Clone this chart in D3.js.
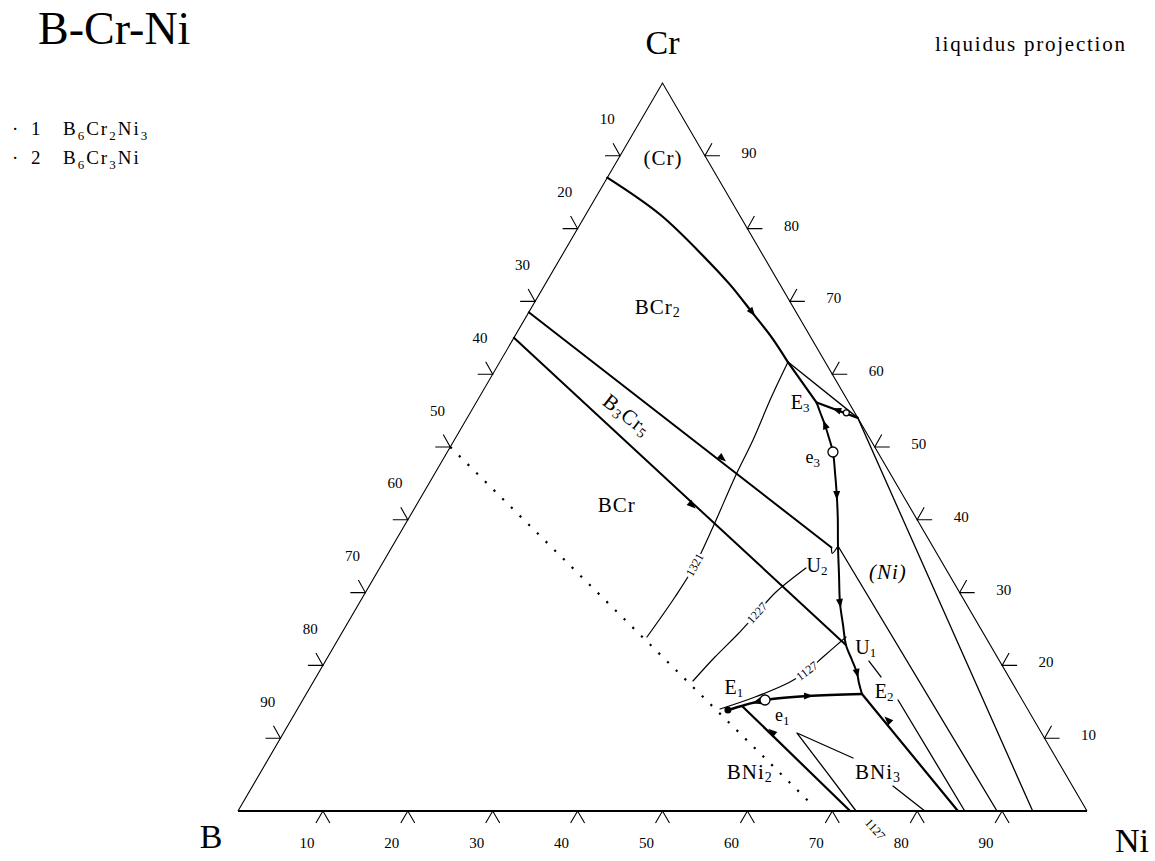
<!DOCTYPE html>
<html><head><meta charset="utf-8">
<script src="https://cdn.jsdelivr.net/npm/d3@7"></script>
<style>
body{margin:0;background:#fff}
svg{display:block}
text{font-family:"Liberation Serif","Times New Roman",serif;fill:#000}
</style>
</head><body>
<svg id="c" width="1155" height="861"></svg>
<script>
// ---------- data (compositions in at.% : [Ni, Cr]) ----------
const ticks = [10,20,30,40,50,60,70,80,90];
const crBCr2 = [[0,87],[8.8,81.9],[17.4,75.7],[21.8,72.3],[26.3,68.5],[30.4,65.0],[33.9,61.7]];
const bcr2B3cr5 = [[0,68.5],[51.8,36.2]];
const u2Hook = [[51.8,36.2],[52.3,35.4],[52.47,36.4]];
const b3cr5BCr = [[0,65.0],[60.2,22.8]];
const p1E3 = [[33.9,61.7],[40.1,56.1]];
const e3Edge = [[40.1,56.1],[46.0,54.0]];
const p1Edge = [[33.9,61.7],[46.0,54.0]];
const e3Valley = [[40.1,56.1],[41.15,54.81],[42.63,53.02],[43.99,51.24],[45.42,49.31],[47.11,46.43],[48.82,43.41],[50.52,40.25],[52.47,36.40],[54.58,32.42],[56.62,28.57],[58.49,25.55],[60.21,22.80],[61.95,20.74],[63.43,18.96],[64.35,17.58],[65.46,16.07]];
const e1Valley = [[50.77,13.87],[52.44,14.56],[54.45,15.25],[59.24,15.80],[65.46,16.07]];
const e1Base = [[52.34,14.29],[72.1,0]];
const e2Base = [[65.46,16.07],[84.8,0]];
const niBoundary1 = [[46.0,54.0],[93.6,0]];
const niBoundary2 = [[52.47,36.40],[89.4,0]];
const niLineA = [[64.02,20.60],[66.53,18.41]];
const niLineB = [[70.12,15.25],[85.6,0]];
const bni3LoopA = [[72.8,0],[66.64,5.36],[60.49,10.71],[68.80,7.28]];
const bni3LoopB = [[75.43,3.43],[80.9,0]];
const tieLine = [[0,50],[67,1]];
const iso1321 = [[33.94,61.68],[34.41,56.73],[35.18,50.96],[35.60,45.88],[36.44,39.01],[36.93,33.79],[36.77,29.40],[36.22,23.90]];
const iso1227 = [[44.66,17.86],[45.60,21.15],[46.73,24.31],[47.53,27.20],[48.33,30.08],[50.21,33.38]];
const iso1127 = [[49.77,14.01],[53.07,15.66],[56.16,17.72],[57.40,19.23],[58.33,21.15],[59.66,23.90]];
const isoTemps = ["1321","1227","1127","1127"];
const isoTempAt = [[36.9,33.8],[47.53,27.2],[57.4,19.23],[76.3,-2.5]];
const arrowsAt = [[26.27,68.54],[32.8,48.45],[32.45,42.03],[43.0,55.1],[42.63,53.02],[48.82,43.41],[56.62,28.57],[63.43,18.96],[70.31,12.5],[53.64,14.97],[59.24,15.80],[57.47,10.85]];
const arrowsTo = [[30.41,64.97],[51.6,36.0],[60.2,22.8],[40.1,56.1],[40.1,56.1],[52.47,36.40],[60.21,22.80],[65.46,16.07],[65.46,16.07],[50.77,13.87],[65.46,16.07],[52.34,14.29]];
const saddles = [[45.42,49.31],[54.45,15.25]];
const minorSaddle = [44.3,54.7];
const phaseNames = ["(Cr)","BCr_2","BCr","B_3Cr_5","(Ni)","BNi_2","BNi_3"];
const phaseAt = [[5.2,89.7],[14.85,69.2],[23.6,42.0],[18.6,54.4],[60.15,32.8],[57.6,5.36],[72.7,5.36]];
const pointNames = ["E_3","e_3","U_2","U_1","E_2","E_1","e_1"];
const pointAt = [[38.1,56.2],[43.4,48.6],[51.3,33.8],[62.7,22.5],[67.85,16.5],[49.9,17.0],[57.5,13.2]];
const compounds = ["B_6Cr_2Ni_3","B_6Cr_3Ni"];

// ---------- scales ----------
const svg = d3.select("#c");
const xs = d3.scaleLinear().domain([0,100]).range([238,1087]);
const ys = d3.scaleLinear().domain([0,100]).range([811,83]);
const P = d => [xs(d[0] + d[1]/2), ys(d[1])];
const straight = d3.line().x(d=>P(d)[0]).y(d=>P(d)[1]);
const smooth = d3.line().x(d=>P(d)[0]).y(d=>P(d)[1]).curve(d3.curveCatmullRom.alpha(0.5));

function sub(sel, str, subSize){
  const parts = str.split("_");
  sel.append("tspan").text(parts[0]);
  for(let i=1;i<parts.length;i++){
    const s = parts[i][0], rest = parts[i].slice(1);
    sel.append("tspan").attr("dy",5).style("font-size",subSize+"px").text(s);
    sel.append("tspan").attr("dy",-5).text(rest);
  }
}

// ---------- triangle ----------
svg.append("path").attr("d", straight([[0,0],[100,0]])).attr("stroke","#000").attr("stroke-width",1.8).attr("fill","none");
svg.append("path").attr("d", straight([[0,0],[0,100],[100,0]])).attr("stroke","#000").attr("stroke-width",1.1).attr("fill","none");

// ticks
const tk = svg.append("g").attr("stroke","#000").attr("stroke-width",1.1).attr("fill","none");
const lab = svg.append("g").style("font-size","15px").attr("text-anchor","middle").attr("dominant-baseline","central");
ticks.forEach(v=>{
  let p = P([v,0]);
  tk.append("path").attr("d",`M${p[0]-7},${p[1]+12}L${p[0]},${p[1]}L${p[0]+7},${p[1]+12}`);
  lab.append("text").attr("x",p[0]-16).attr("y",843).text(v);
  p = P([0,100-v]);
  tk.append("path").attr("d",`M${p[0]-15},${p[1]}L${p[0]},${p[1]}L${p[0]-7},${p[1]-12.5}`);
  const q = P([0,100-v+5]);
  lab.append("text").attr("x",q[0]-34).attr("y",q[1]).text(v);
  p = P([100-v,v]);
  tk.append("path").attr("d",`M${p[0]+15},${p[1]}L${p[0]},${p[1]}L${p[0]+7},${p[1]-12.5}`);
  lab.append("text").attr("x",p[0]+44).attr("y",p[1]-3).text(v);
});

// ---------- lines ----------
const g = svg.append("g").attr("fill","none").attr("stroke","#000").attr("stroke-linecap","round").attr("stroke-linejoin","round");
function draw(data, w, gen){ g.append("path").attr("d",(gen||straight)(data)).attr("stroke-width",w); }
draw(crBCr2,2.2,smooth);
draw(bcr2B3cr5,2.0);
draw(u2Hook,1.3,smooth);
draw(b3cr5BCr,2.0);
draw(p1E3,2.2);
draw(e3Edge,2.2);
draw(p1Edge,1.3);
draw(e3Valley,2.0,smooth);
draw(e1Valley,2.4,smooth);
draw(e1Base,2.2);
draw(e2Base,2.2);
draw(niBoundary1,1.3);
draw(niBoundary2,1.3);
draw(niLineA,1.3);
draw(niLineB,1.3);
draw(bni3LoopA,1.3);
draw(bni3LoopB,1.3);
draw(iso1321,1.2,smooth);
draw(iso1227,1.2,smooth);
draw(iso1127,1.2,smooth);
g.append("path").attr("d",straight(tieLine)).attr("stroke-width",2.2).attr("stroke-linecap","butt").attr("stroke-dasharray","2.2 10");

// arrows
arrowsAt.forEach((a,i)=>{
  const p=P(a), t=P(arrowsTo[i]);
  const ang=Math.atan2(t[1]-p[1],t[0]-p[0]);
  const c=Math.cos(ang), s=Math.sin(ang);
  const tip=[p[0]+5*c,p[1]+5*s], b=[p[0]-4*c,p[1]-4*s];
  svg.append("path").attr("d",`M${tip[0]},${tip[1]}L${b[0]-3.5*s},${b[1]+3.5*c}L${b[0]+3.5*s},${b[1]-3.5*c}Z`).attr("fill","#000");
});
const e1p = P(e1Valley[0]);
svg.append("circle").attr("cx",e1p[0]).attr("cy",e1p[1]).attr("r",3.5).attr("fill","#000");
saddles.forEach(s=>{const p=P(s); svg.append("circle").attr("cx",p[0]).attr("cy",p[1]).attr("r",5).attr("fill","#fff").attr("stroke","#000").attr("stroke-width",1.3);});
const ms = P(minorSaddle);
svg.append("circle").attr("cx",ms[0]).attr("cy",ms[1]).attr("r",3).attr("fill","#fff").attr("stroke","#000").attr("stroke-width",1.2);

// isotherm temperatures
const isoAng=[-61.5,-48,-37,48];
isoTemps.forEach((t,i)=>{
  const p=P(isoTempAt[i]);
  svg.append("text").attr("transform",`translate(${p[0]},${p[1]}) rotate(${isoAng[i]})`)
    .attr("text-anchor","middle").attr("dominant-baseline","central")
    .style("font-size","12px").attr("stroke","#fff").attr("stroke-width",5).attr("paint-order","stroke").text(t);
});

// phase labels
phaseNames.forEach((n,i)=>{
  const p=P(phaseAt[i]);
  const t=svg.append("text").attr("text-anchor","middle").attr("dominant-baseline","central")
    .style("font-size","21px").style("letter-spacing","1px");
  if(n==="B_3Cr_5") t.attr("transform",`translate(${p[0]},${p[1]}) rotate(38)`);
  else t.attr("x",p[0]).attr("y",p[1]);
  if(n==="(Ni)") t.style("font-style","italic");
  sub(t,n,14);
});
pointNames.forEach((n,i)=>{
  const p=P(pointAt[i]);
  const t=svg.append("text").attr("x",p[0]).attr("y",p[1]).attr("text-anchor","middle").attr("dominant-baseline","central")
    .style("font-size",n[0]==="e"?"18px":"20px");
  sub(t,n,13);
});

// corner labels and titles
const cB=P([0,0]), cN=P([100,0]), cC=P([0,100]);
svg.append("text").attr("x",cB[0]-27).attr("y",cB[1]+25).attr("text-anchor","middle").attr("dominant-baseline","central").style("font-size","34px").text("B");
svg.append("text").attr("x",cN[0]+45).attr("y",cN[1]+29).attr("text-anchor","middle").attr("dominant-baseline","central").style("font-size","34px").text("Ni");
svg.append("text").attr("x",cC[0]).attr("y",cC[1]-41).attr("text-anchor","middle").attr("dominant-baseline","central").style("font-size","34px").text("Cr");
svg.append("text").attr("x",38).attr("y",44).style("font-size","46px").text("B-Cr-Ni");
svg.append("text").attr("x",935).attr("y",51).style("font-size","21px").attr("textLength",190).attr("lengthAdjust","spacing").text("liquidus projection");

// legend
compounds.forEach((c,i)=>{
  const y = 135 + i*29;
  svg.append("text").attr("x",12).attr("y",y).style("font-size","19px").text("·");
  svg.append("text").attr("x",31).attr("y",y).style("font-size","19px").text(i+1);
  const t=svg.append("text").attr("x",63).attr("y",y).style("font-size","19px").style("letter-spacing","2px");
  sub(t,c,13);
});
</script>
</body></html>
